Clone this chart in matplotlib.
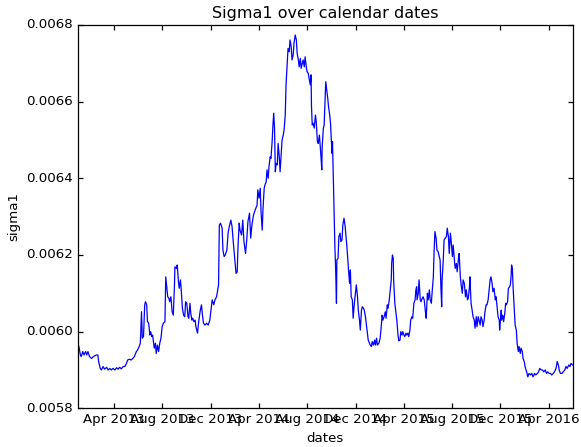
import numpy as np
import matplotlib
matplotlib.use("Agg")
import matplotlib.pyplot as plt
import matplotlib.dates as mdates
from matplotlib.ticker import FormatStrFormatter, MultipleLocator

# Day offsets from 2013-01-01 and the sigma1 value read at each
day_offsets = [
    0, 3, 6, 8, 12, 15, 19, 22, 25, 29, 34, 39, 46, 50, 52, 56, 59, 63, 67, 72,
    76, 80, 84, 88, 93, 97, 101, 105, 109, 114, 118, 122, 125, 130, 134, 138, 142, 147, 150,
    154, 157, 158, 160, 162, 165, 168, 170, 173, 175, 178, 181, 183, 186, 188, 192, 195, 197, 200, 203,
    206, 209, 212, 215, 219, 221, 224, 226, 229, 231, 234, 237, 240, 243, 244, 248, 250, 253, 255, 258,
    260, 263, 266, 269, 271, 274, 277, 279, 282, 284, 287, 289, 292, 295, 297, 301, 304,
    308, 311, 313, 316, 320, 324, 328, 332, 335, 338, 342, 345, 349, 352, 354, 356, 359, 363, 365, 368,
    371, 375, 378, 381, 385, 388, 391, 395, 398, 401, 403, 406, 408, 412, 415, 418, 422, 425, 428, 432,
    435, 438, 442, 446, 451,
    453, 456, 459, 461, 464, 466, 469, 471, 474, 476, 479, 481, 484, 486, 489, 491, 493, 495, 497, 499,
    502, 504, 507, 509, 512, 514, 517, 519, 522, 524, 527, 529, 532, 534, 537, 539, 542, 544, 547, 550,
    552, 555, 557, 560, 562, 565, 567, 570, 572, 575, 577, 580, 582, 585, 587, 588, 590, 592, 595, 598,
    600, 603, 605, 608,
    612, 614, 615, 618, 620, 622, 624, 626, 629, 631, 634, 636, 638, 640, 641, 643, 645, 647, 649, 651,
    652, 655, 657, 660, 662, 665, 667, 670, 673, 675, 677, 679, 682, 684, 686, 688, 691, 693, 696, 699,
    701, 704, 706, 709, 711, 714, 716, 719, 721, 724, 726, 729, 731, 734, 736, 739, 741, 744, 747, 749,
    752, 754,
    758, 761, 763, 766, 768, 771, 774, 776, 779, 781, 784, 786, 789, 790, 792, 794, 795, 798, 801, 803,
    806, 808, 811, 813, 816, 818, 821, 823, 826, 828, 831, 833, 836, 838, 841, 843, 846, 849, 851, 853,
    854, 857, 859, 862, 864, 867, 869, 872, 875, 877, 880, 882, 885, 887, 890, 892, 895, 897, 899, 902,
    904, 907,
    912, 914, 916, 917, 920, 922, 925, 928, 930, 933, 935, 938, 940, 943, 945, 948, 950, 953, 955, 958,
    960, 963, 965, 968, 970, 973, 976, 978, 981, 983, 986, 987, 990, 992, 995, 998, 1000, 1003, 1005, 1008,
    1010, 1013, 1015, 1018, 1020, 1023, 1025, 1028, 1030, 1033, 1035, 1038, 1040, 1043, 1045, 1048, 1051,
    1053, 1056, 1058, 1061, 1062,
    1066, 1067, 1070, 1072, 1075, 1077, 1079, 1082, 1084, 1087, 1089, 1091, 1092, 1094, 1096, 1099, 1101,
    1104, 1106, 1109, 1111, 1114, 1116, 1119, 1121, 1124, 1126, 1130, 1133, 1136, 1140, 1143, 1146, 1150,
    1153, 1157, 1160, 1163, 1167, 1170, 1173, 1177, 1180, 1183, 1187, 1190, 1193, 1197, 1200, 1204, 1207,
    1210, 1212, 1215, 1219, 1222, 1226, 1229, 1232, 1236, 1239, 1242, 1246,
]

sigma1 = [
    0.005970, 0.005957, 0.005939, 0.005935, 0.005948, 0.005939, 0.005948, 0.005939, 0.005948, 0.005935,
    0.005930, 0.005935, 0.005939, 0.005939, 0.005922, 0.005904, 0.005900, 0.005909, 0.005902, 0.005907,
    0.005900, 0.005904, 0.005900, 0.005904, 0.005900, 0.005906, 0.005902, 0.005907, 0.005903, 0.005909,
    0.005909, 0.005917, 0.005926, 0.005928, 0.005926, 0.005930, 0.005935, 0.005948, 0.005952,
    0.005961, 0.005970, 0.006000, 0.006052, 0.005983, 0.005987, 0.006070, 0.006078, 0.006070, 0.006026,
    0.006022, 0.005991, 0.006000, 0.005987, 0.005991, 0.005957, 0.005970, 0.005943, 0.005965, 0.005948,
    0.005970, 0.005983, 0.006013, 0.006022, 0.006026, 0.006143, 0.006113, 0.006091, 0.006087, 0.006078,
    0.006091, 0.006052, 0.006043, 0.006122, 0.006169, 0.006165, 0.006174, 0.006130, 0.006113, 0.006135,
    0.006109, 0.006061, 0.006043, 0.006039, 0.006078, 0.006074, 0.006039, 0.006035, 0.006074, 0.006048,
    0.006030, 0.006035, 0.006026, 0.006030, 0.006013, 0.005996, 0.006026,
    0.006056, 0.006070, 0.006048, 0.006022, 0.006017, 0.006022, 0.006017, 0.006030, 0.006056, 0.006083,
    0.006070, 0.006083, 0.006091, 0.006109, 0.006122, 0.006278, 0.006283, 0.006270, 0.006213, 0.006196,
    0.006200, 0.006213, 0.006257, 0.006274, 0.006291, 0.006274, 0.006235, 0.006187, 0.006152, 0.006156,
    0.006222, 0.006283, 0.006265, 0.006252, 0.006291, 0.006235, 0.006204, 0.006239, 0.006287, 0.006309,
    0.006244, 0.006278, 0.006304, 0.006317, 0.006330,
    0.006370, 0.006348, 0.006374, 0.006313, 0.006265, 0.006322, 0.006374, 0.006383, 0.006391, 0.006422,
    0.006400, 0.006430, 0.006456, 0.006452, 0.006496, 0.006539, 0.006570, 0.006531, 0.006417, 0.006439,
    0.006435, 0.006491, 0.006456, 0.006417, 0.006469, 0.006500, 0.006513, 0.006526, 0.006565, 0.006644,
    0.006704, 0.006739, 0.006730, 0.006761, 0.006743, 0.006709, 0.006722, 0.006752, 0.006774, 0.006761,
    0.006726, 0.006709, 0.006691, 0.006713, 0.006687, 0.006700, 0.006709, 0.006691, 0.006717, 0.006691,
    0.006678, 0.006674, 0.006661, 0.006644, 0.006670, 0.006591, 0.006539, 0.006544, 0.006531, 0.006565,
    0.006548, 0.006496, 0.006491, 0.006513,
    0.006456, 0.006422, 0.006483, 0.006531, 0.006539, 0.006596, 0.006652, 0.006635, 0.006609, 0.006587,
    0.006565, 0.006544, 0.006500, 0.006465, 0.006496, 0.006404, 0.006309, 0.006222, 0.006161, 0.006074,
    0.006187, 0.006191, 0.006248, 0.006257, 0.006235, 0.006239, 0.006278, 0.006296, 0.006274, 0.006248,
    0.006226, 0.006196, 0.006152, 0.006126, 0.006161, 0.006091, 0.006083, 0.006035, 0.006074, 0.006104,
    0.006122, 0.006091, 0.006056, 0.006030, 0.006004, 0.006056, 0.006065, 0.006061, 0.006056, 0.006039,
    0.006022, 0.005996, 0.005978, 0.005970, 0.005965, 0.005961, 0.005974, 0.005965, 0.005978, 0.005965,
    0.005983, 0.005965,
    0.005970, 0.005983, 0.006004, 0.006043, 0.006030, 0.006039, 0.006052, 0.006035, 0.006070, 0.006061,
    0.006083, 0.006104, 0.006135, 0.006178, 0.006200, 0.006191, 0.006135, 0.006074, 0.006048, 0.006030,
    0.005991, 0.005976, 0.005978, 0.006000, 0.005991, 0.006000, 0.005991, 0.005987, 0.005996, 0.005991,
    0.005996, 0.005987, 0.006004, 0.006030, 0.006039, 0.006035, 0.006074, 0.006083, 0.006109, 0.006117,
    0.006083, 0.006100, 0.006135, 0.006083, 0.006078, 0.006087, 0.006091, 0.006083, 0.006052, 0.006035,
    0.006100, 0.006083, 0.006109, 0.006083, 0.006074, 0.006104, 0.006143, 0.006213, 0.006261, 0.006244,
    0.006213, 0.006209,
    0.006187, 0.006117, 0.006065, 0.006135, 0.006187, 0.006239, 0.006244, 0.006248, 0.006270, 0.006248,
    0.006204, 0.006257, 0.006235, 0.006196, 0.006226, 0.006187, 0.006165, 0.006178, 0.006156, 0.006187,
    0.006204, 0.006143, 0.006122, 0.006100, 0.006135, 0.006126, 0.006091, 0.006109, 0.006083, 0.006087,
    0.006117, 0.006143, 0.006074, 0.006061, 0.006039, 0.006030, 0.006009, 0.006039, 0.006013, 0.006039,
    0.006030, 0.006017, 0.006039, 0.006030, 0.006013, 0.006030, 0.006052, 0.006070, 0.006070, 0.006083,
    0.006104, 0.006135, 0.006143, 0.006126, 0.006104, 0.006113, 0.006083, 0.006091, 0.006061, 0.006039,
    0.006030, 0.006004,
    0.006056, 0.006030, 0.006043, 0.006026, 0.006048, 0.006074, 0.006070, 0.006078, 0.006113, 0.006117,
    0.006122, 0.006148, 0.006174, 0.006165, 0.006113, 0.006052, 0.006017, 0.006004, 0.005970, 0.005948,
    0.005961, 0.005943, 0.005957, 0.005948, 0.005930, 0.005922, 0.005909, 0.005895, 0.005882, 0.005891,
    0.005887, 0.005891, 0.005882, 0.005891, 0.005887, 0.005891, 0.005895, 0.005904, 0.005900, 0.005900,
    0.005895, 0.005900, 0.005891, 0.005895, 0.005891, 0.005891, 0.005887, 0.005891, 0.005895, 0.005904,
    0.005922, 0.005913, 0.005900, 0.005891, 0.005891, 0.005895, 0.005900, 0.005909, 0.005904, 0.005913,
    0.005909, 0.005917, 0.005913,
]

start_date = np.datetime64("2013-01-01")
dates = start_date + np.array(day_offsets).astype("timedelta64[D]")

title = "Sigma1 over calendar dates"
xlabel = "dates"
ylabel = "sigma1"

plt.style.use("classic")
plt.rcParams["font.family"] = ["DejaVu Sans"]

fig = plt.figure(figsize=(5.81, 4.47), dpi=100, facecolor="white")
ax = fig.add_axes([78 / 581, 1 - 408.3 / 447, (572.7 - 78) / 581, (408.3 - 25) / 447])
ax.set_facecolor("white")

ax.plot(dates, sigma1, color="b", linewidth=0.9)

ax.set_xlim(dates[0], dates[-1])
ax.set_ylim(0.0058, 0.0068)
ax.yaxis.set_major_locator(MultipleLocator(0.0002))
ax.yaxis.set_major_formatter(FormatStrFormatter("%.4f"))
ax.xaxis.set_major_locator(mdates.MonthLocator(bymonth=[4, 8, 12]))
ax.xaxis.set_major_formatter(mdates.DateFormatter("%b %Y"))
ax.tick_params(labelsize=9.6, direction="in", top=True, right=True,
               length=3.6, width=0.9, pad=3.6)
for spine in ax.spines.values():
    spine.set_linewidth(0.9)

ax.set_title(title, fontsize=11.5, pad=5)
ax.set_xlabel(xlabel, fontsize=9.6, labelpad=4)
ax.set_ylabel(ylabel, fontsize=9.6, labelpad=4)

fig.savefig("out.png", dpi=100, facecolor="white")
